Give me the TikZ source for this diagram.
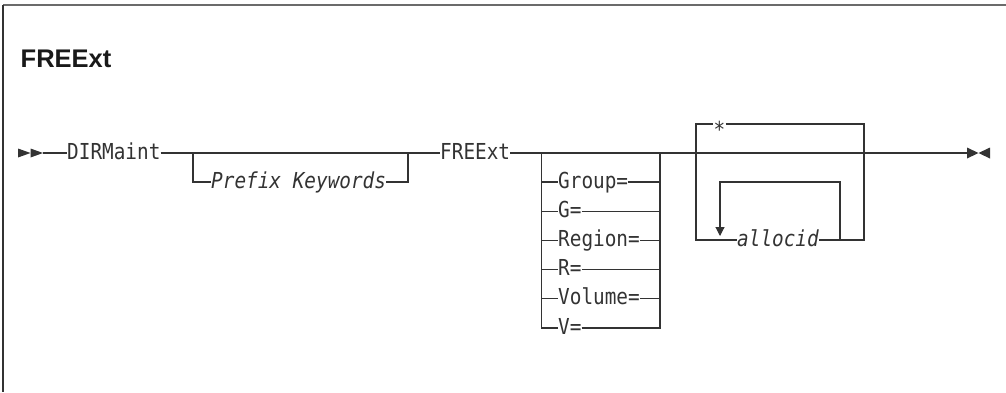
\documentclass[tikz,border=0pt]{standalone}
\usepackage{fontspec}
\usetikzlibrary{calc,positioning,arrows.meta}
\newfontfamily\railfont{DejaVu Sans Mono}[FakeStretch=0.88,ItalicFont={DejaVu Sans Mono Oblique}]
\newfontfamily\headfont{Liberation Sans}
\definecolor{RailInk}{HTML}{333333}
\definecolor{FrameGray}{HTML}{6B6B6B}
\tikzset{
  rail/.style={draw=RailInk, line width=1.1pt},
  railtext/.style={inner sep=0pt, anchor=base west, text=RailInk, font=\railfont\fontsize{22}{24}\selectfont},
  railvar/.style={railtext, font=\railfont\itshape\fontsize{22}{24}\selectfont},
  railmark/.style={fill=RailInk}
}
\begin{document}
\begin{tikzpicture}[x=1pt,y=-1pt]
  \useasboundingbox (0,0) rectangle (1006,392);
  \coordinate (frameTL) at (3,5);
  \coordinate (frameTR) at (1006,5);
  \coordinate (frameBL) at (3,392);
  \draw[FrameGray, line width=2pt] (frameTL) -- (frameTR);
  \draw[RailInk, line width=2pt] (frameTL) -- (frameBL);

  \node[
    inner sep=0pt,
    anchor=base west,
    font=\headfont\bfseries\fontsize{25.5}{30}\selectfont,
    text=black!90
  ] (title) at (20.5,67) {FREExt};

  \fill[railmark] (18,148.5) -- (30.5,153) -- (18,157.5) -- cycle;
  \fill[railmark] (30.5,148.5) -- (43,153) -- (30.5,157.5) -- cycle;
  \coordinate (start) at (43,153);

  \node[railtext] (dirm) at (67,159) {DIRMaint};
  \draw[rail] (start) -- (dirm.west |- start);

  \coordinate (pkL) at (193,153);
  \coordinate (pkR) at (408,153);
  \coordinate (pkrow) at (193,182);
  \draw[rail] (dirm.east |- start) -- (pkL) -- (pkR);
  \node[railvar] (pk) at (211,188) {Prefix Keywords};
  \draw[rail] (pkL) -- (pkrow) -- (pk.west |- pkrow);
  \draw[rail] (pk.east |- pkrow) -- (pkR |- pkrow) -- (pkR);

  \node[railtext] (free) at (440,159) {FREExt};
  \draw[rail] (pkR) -- (free.west |- pkR);

  \coordinate (grL) at (541.7,153);
  \coordinate (grR) at (660,153);
  \draw[rail] (free.east |- grL) -- (grL) -- (grR);
  \foreach \opt [count=\i] in {Group=,G=,Region=,R=,Volume=,V=} {
    \coordinate (row\i) at (541.7,{182+(\i-1)*29.2});
    \node[railtext] (opt\i) at ($(row\i)+(16.3,6)$) {\opt};
    \draw[rail] (grL) -- (row\i) -- (opt\i.west |- row\i);
    \draw[rail] (opt\i.east |- row\i) -- (grR |- row\i) -- (grR);
  }

  \coordinate (rpL) at (696,153);
  \coordinate (rpR) at (864,153);
  \coordinate (topL) at (696,124);
  \coordinate (topR) at (864,124);
  \coordinate (botL) at (696,240);
  \coordinate (botR) at (864,240);
  \draw[rail] (grR) -- (rpL) -- (rpR);
  \node[railtext, anchor=base] (dflt) at (719.5,137.5) {*};
  \draw[rail] (rpL) -- (topL) -- (dflt.west |- topL);
  \draw[rail] (dflt.east |- topL) -- (topR) -- (rpR);
  \node[railvar] (alloc) at (737,246) {allocid};
  \draw[rail] (rpL) -- (botL) -- (alloc.west |- botL);
  \draw[rail] (alloc.east |- botL) -- (botR) -- (rpR);

  \coordinate (loopR) at (840,240);
  \coordinate (loopTR) at (840,182);
  \coordinate (loopTL) at (720,182);
  \coordinate (loopEnd) at (720,236);
  \draw[rail, -{Triangle[length=9pt,width=9pt]}] (loopR) -- (loopTR) -- (loopTL) -- (loopEnd);

  \coordinate (finish) at (967,153);
  \coordinate (dashL) at (870,152.5);
  \coordinate (dashR) at (893,152.5);
  \draw[rail] (rpR) -- (finish);
  \draw[RailInk, line width=1.8pt] (dashL) -- (dashR);
  \fill[railmark] (967,147.5) -- (978.5,153) -- (967,158.5) -- cycle;
  \fill[railmark] (990,147.5) -- (978.5,153) -- (990,158.5) -- cycle;
\end{tikzpicture}
\end{document}
